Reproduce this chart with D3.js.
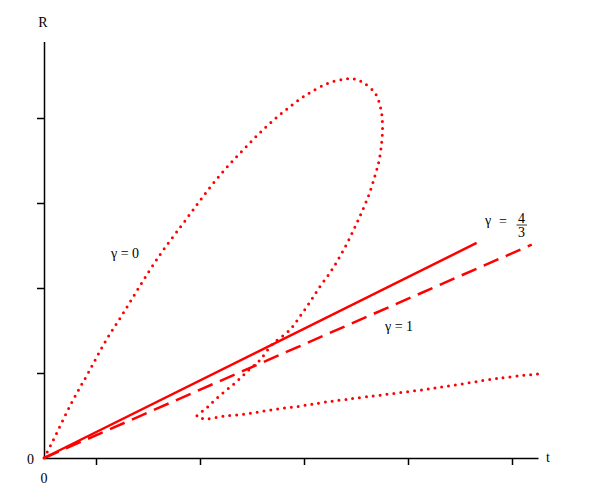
<!DOCTYPE html>
<html>
<head>
<meta charset="utf-8">
<script src="https://cdn.jsdelivr.net/npm/d3@7"></script>
<style>
  body { margin: 0; background: #fff; }
  .axis path, .axis line { stroke: #000; stroke-width: 1.5; }
  .lbl { font-family: "Liberation Serif", "DejaVu Serif", serif; font-size: 14px; fill: #000; }
</style>
</head>
<body>
<svg id="chart" width="599" height="497"></svg>
<script>
// gamma = 0 curve (dotted loop)
const g0T = [0, 0.17, 0.53, 0.85, 1.18, 1.53, 1.88, 2.24, 2.54, 2.64, 2.94, 3.24, 3.56, 3.9,
  4.26, 4.64, 5.04, 5.47, 5.8, 5.97, 6.13, 6.37, 6.48, 6.51, 6.49, 6.44, 6.35, 6.25, 6.13,
  5.99, 5.84, 5.68, 5.51, 5.31, 5.13, 4.94, 4.73, 4.38, 4.15, 3.93, 3.67, 3.39, 3.13, 2.94,
  3.1, 3.42, 3.9, 4.41, 4.92, 5.44, 6.21, 7.49, 8.77, 9.51];
const g0R = [0, 0.2, 0.65, 1.0, 1.37, 1.71, 2.06, 2.4, 2.65, 2.73, 2.98, 3.22, 3.45, 3.67,
  3.89, 4.09, 4.27, 4.41, 4.46, 4.46, 4.42, 4.29, 4.1, 3.9, 3.69, 3.49, 3.29, 3.1, 2.92,
  2.73, 2.54, 2.36, 2.19, 2.02, 1.85, 1.68, 1.51, 1.33, 1.15, 1.03, 0.88, 0.74, 0.59, 0.49,
  0.46, 0.49, 0.52, 0.57, 0.61, 0.66, 0.72, 0.82, 0.94, 0.99];

// gamma = 4/3 (solid) and gamma = 1 (dashed)
const g43T = [0, 8.32];
const g43R = [0, 2.53];
const g1T = [0, 9.38];
const g1R = [0, 2.51];

const xTicks = [1, 3, 5, 7, 9];
const yTicks = [1, 2, 3, 4];

const svg = d3.select("#chart");
const x = d3.scaleLinear().domain([0, 9.5]).range([44, 538]);
const y = d3.scaleLinear().domain([0, 4.9]).range([458, 41.5]);

svg.append("g")
  .attr("class", "axis")
  .attr("transform", "translate(0,458)")
  .call(d3.axisBottom(x).tickValues(xTicks).tickSize(7).tickSizeOuter(0).tickFormat(""));

svg.append("g")
  .attr("class", "axis")
  .attr("transform", "translate(44,0)")
  .call(d3.axisLeft(y).tickValues(yTicks).tickSize(7).tickSizeOuter(0).tickFormat(""));

const zip = (ts, rs) => ts.map((t, i) => [t, rs[i]]);
const line = d3.line().x(d => x(d[0])).y(d => y(d[1])).curve(d3.curveCatmullRom);

svg.append("path")
  .datum(zip(g0T, g0R))
  .attr("d", line)
  .attr("fill", "none")
  .attr("stroke", "#ff0000")
  .attr("stroke-width", 3)
  .attr("stroke-linecap", "round")
  .attr("stroke-dasharray", "0,6.9");

svg.append("path")
  .datum(zip(g43T, g43R))
  .attr("d", line)
  .attr("fill", "none")
  .attr("stroke", "#ff0000")
  .attr("stroke-width", 2.5);

svg.append("path")
  .datum(zip(g1T, g1R))
  .attr("d", line)
  .attr("fill", "none")
  .attr("stroke", "#ff0000")
  .attr("stroke-width", 2.5)
  .attr("stroke-dasharray", "16,8");

// text
const txt = (tx, ty, s, anchor) => svg.append("text")
  .attr("class", "lbl").attr("x", tx).attr("y", ty)
  .attr("text-anchor", anchor || "start").text(s);

txt(43, 27, "R", "middle");
txt(546, 462, "t");
txt(34, 464, "0", "end");
txt(44, 483, "0", "middle");
txt(111, 258, "γ = 0");
txt(385, 331, "γ = 1");
txt(485, 225, "γ");
txt(499, 226, "=");
txt(521.5, 222.5, "4", "middle");
txt(521.5, 237, "3", "middle");
svg.append("line")
  .attr("x1", 516.5).attr("x2", 527)
  .attr("y1", 225).attr("y2", 225)
  .attr("stroke", "#000").attr("stroke-width", 0.8);
</script>
</body>
</html>
